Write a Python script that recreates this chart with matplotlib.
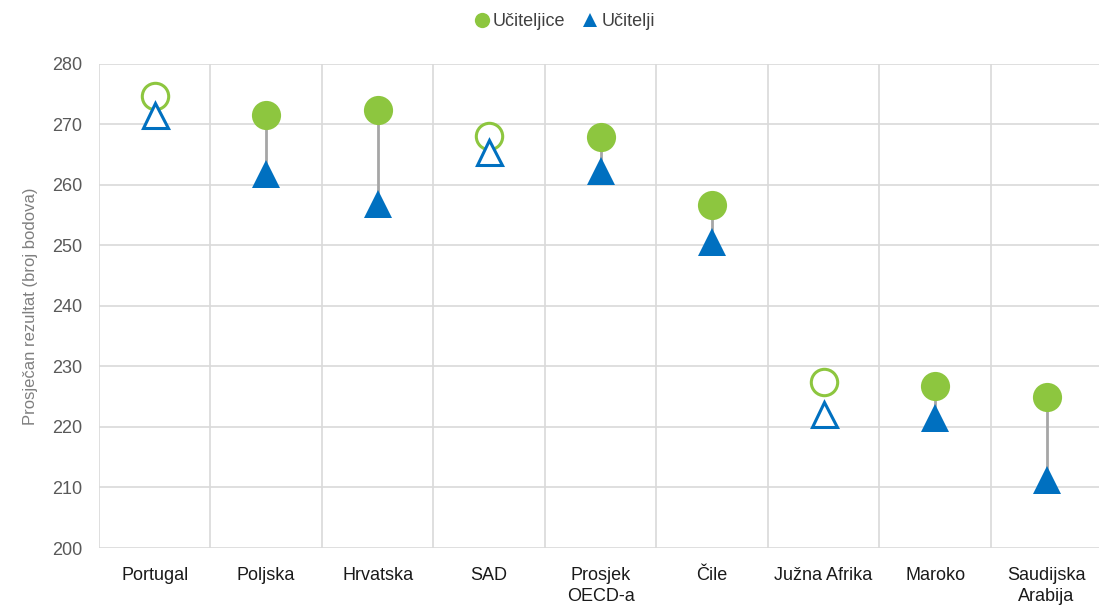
import matplotlib.pyplot as plt
from matplotlib.lines import Line2D
import numpy as np

countries = ['Portugal', 'Poljska', 'Hrvatska', 'SAD', 'Prosjek\nOECD-a', 'Čile',
             'Južna Afrika', 'Maroko', 'Saudijska\nArabija']
female = [274.7, 271.5, 272.3, 268.1, 267.9, 256.6, 227.4, 226.8, 225.0]
male = [271.5, 261.8, 256.9, 265.5, 262.3, 250.6, 222.1, 221.5, 211.2]
significant = [False, True, True, False, True, True, False, True, True]

green = '#8DC63F'
blue = '#0070C0'

plt.rcParams['font.family'] = ['Liberation Sans Narrow', 'Liberation Sans', 'DejaVu Sans']

fig = plt.figure(figsize=(10.99, 6.13), dpi=100)
ax = fig.add_axes([0.090, 0.106, 0.913, 0.790])

x = np.arange(len(countries))

# connecting lines only where difference is significant
for i in x:
    if significant[i]:
        ax.plot([i, i], [female[i], male[i]], color='#A6A6A6', linewidth=2, zorder=2)

for i in x:
    if significant[i]:
        ax.plot(i, female[i], 'o', markersize=21, color=green, markeredgewidth=0, zorder=3)
        ax.plot(i, male[i], '^', markersize=20, color=blue, markeredgewidth=0, zorder=4)
    else:
        ax.plot(i, female[i], 'o', markersize=19, markerfacecolor='white',
                markeredgecolor=green, markeredgewidth=2.2, zorder=3)
        ax.plot(i, male[i], '^', markersize=18, markerfacecolor='white',
                markeredgecolor=blue, markeredgewidth=2.2, zorder=4)

ax.set_xlim(-0.5, len(countries) - 0.5)
ax.set_ylim(200, 280)
ax.set_yticks(np.arange(200, 281, 10))
ax.set_xticks(x)
ax.set_xticklabels(countries, fontsize=13, color='#1a1a1a', linespacing=1.3)
ax.set_xticks(np.arange(-0.5, len(countries), 1), minor=True)
ax.tick_params(axis='y', labelsize=13, labelcolor='#595959', length=0, pad=12)
ax.tick_params(axis='x', which='both', length=0, pad=14)

ax.grid(True, axis='y', color='#D9D9D9', linewidth=1.2)
ax.grid(True, axis='x', which='minor', color='#D9D9D9', linewidth=1.2)
ax.grid(False, axis='x', which='major')
ax.set_axisbelow(True)
for s in ax.spines.values():
    s.set_visible(False)

ax.set_ylabel('Prosječan rezultat (broj bodova)', fontsize=12, color='#7F7F7F', labelpad=10)

handles = [
    Line2D([], [], marker='o', linestyle='none', color=green, markersize=11, markeredgewidth=0),
    Line2D([], [], marker='^', linestyle='none', color=blue, markersize=10, markeredgewidth=0),
]
leg = fig.legend(handles, ['Učiteljice', 'Učitelji'], loc='center', bbox_to_anchor=(0.513, 0.965),
                 ncol=2, frameon=False, fontsize=13, handletextpad=0.1, columnspacing=0.9,
                 handlelength=1.0)
for t in leg.get_texts():
    t.set_color('#404040')

fig.savefig('out.png', dpi=100)
plt.close()
